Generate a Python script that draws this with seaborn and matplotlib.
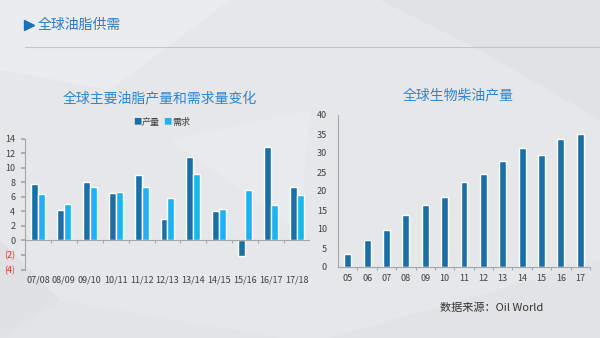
import matplotlib
matplotlib.use("Agg")
import matplotlib.pyplot as plt
from matplotlib.patches import Polygon
import seaborn as sns
import pandas as pd

sns.set_theme(style="white")
plt.rcParams['font.family'] = ['Noto Sans CJK SC', 'DejaVu Sans']

# ---- data ----
seasons = ["07/08", "08/09", "09/10", "10/11", "11/12", "12/13", "13/14", "14/15", "15/16", "16/17", "17/18"]
production = [7.7, 4.2, 8.0, 6.5, 9.0, 2.9, 11.5, 4.0, -2.1, 12.9, 7.3]
demand = [6.4, 5.0, 7.3, 6.7, 7.4, 5.9, 9.2, 4.3, 6.9, 4.9, 6.3]
series_names = ["产量", "需求"]

years = ["05", "06", "07", "08", "09", "10", "11", "12", "13", "14", "15", "16", "17"]
biodiesel = [3.5, 7.1, 9.7, 13.7, 16.3, 18.5, 22.5, 24.5, 27.8, 31.3, 29.5, 33.8, 35.1]

left_yticks = [-4, -2, 0, 2, 4, 6, 8, 10, 12, 14]
left_yticklabels = ["(4)", "(2)", "0", "2", "4", "6", "8", "10", "12", "14"]
right_yticks = [0, 5, 10, 15, 20, 25, 30, 35, 40]

DARK = "#1B6FA6"
LIGHT = "#1DB3F0"
TITLE = "#2F86CF"
TXT = "#404040"
AX = "#A6A6A6"

fig = plt.figure(figsize=(6, 3.38), dpi=100)
fig.patch.set_facecolor("#E6E7E9")

# background polygons (decorative, subtle)
bg = fig.add_axes([0, 0, 1, 1], zorder=-10)
bg.set_xlim(0, 600); bg.set_ylim(338, 0); bg.axis("off")
for pts, c in [
    ([(0, 0), (230, 0), (110, 90), (0, 70)], "#EBECED"),
    ([(380, 0), (600, 0), (600, 120), (480, 50)], "#E1E2E5"),
    ([(0, 240), (60, 300), (0, 338)], "#E0E1E3"),
    ([(60, 300), (280, 338), (0, 338)], "#E3E4E6"),
    ([(330, 338), (600, 260), (600, 338)], "#E2E3E5"),
    ([(170, 140), (310, 110), (300, 230)], "#E9EAEC"),
]:
    bg.add_patch(Polygon(pts, closed=True, facecolor=c, edgecolor="none"))

# header
bg.plot([29], [25], marker=">", color="#1A6FB8", markersize=7)
bg.text(38, 25, "全球油脂供需", color="#2A7CC6", fontsize=10, va="center", ha="left")
bg.plot([25, 600], [47, 47], color="#C4C4C4", lw=0.8)

# ---- left chart ----
df = pd.DataFrame({
    "season": seasons * 2,
    "value": production + demand,
    "series": [series_names[0]] * len(seasons) + [series_names[1]] * len(seasons),
})
ax1 = fig.add_axes([25 / 600, 1 - 269.5 / 338, 285 / 600, 130.8 / 338])
ax1.set_facecolor("none")
sns.barplot(data=df, x="season", y="value", hue="series", order=seasons,
            hue_order=series_names, palette=[DARK, LIGHT], width=0.54,
            saturation=1, ax=ax1, legend=False)
ax1.set_ylim(-4, 14)
ax1.set_xlim(-0.5, len(seasons) - 0.5)
ax1.set_yticks(left_yticks)
ax1.set_yticklabels(left_yticklabels, fontsize=6.5)
for lab, v in zip(ax1.get_yticklabels(), left_yticks):
    lab.set_color("#E03030" if v < 0 else TXT)
ax1.set_xticks(range(len(seasons)))
ax1.set_xticklabels(seasons, fontsize=6.5, color=TXT)
ax1.tick_params(axis="x", length=0, pad=4)
ax1.tick_params(axis="y", length=3, color=AX, left=True, pad=4)
ax1.set_xlabel(""); ax1.set_ylabel("")
for s in ["top", "right", "bottom"]:
    ax1.spines[s].set_visible(False)
ax1.spines["left"].set_color(AX)
ax1.spines["left"].set_linewidth(0.8)
ax1.axhline(0, color=AX, lw=0.8)
ax1.vlines([i + 0.5 for i in range(len(seasons))], -0.35, 0, color=AX, lw=0.8)

fig.text(160 / 600, 1 - 98 / 338, "全球主要油脂产量和需求量变化", color=TITLE,
         fontsize=10, ha="center", va="center")
# legend
lg_y = 1 - 122 / 338
fig.text(137 / 600, lg_y, "■", color=DARK, fontsize=6, ha="center", va="center")
fig.text(142 / 600, lg_y, series_names[0], color=TXT, fontsize=6.5, ha="left", va="center")
fig.text(167 / 600, lg_y, "■", color=LIGHT, fontsize=6, ha="center", va="center")
fig.text(172 / 600, lg_y, series_names[1], color=TXT, fontsize=6.5, ha="left", va="center")

# ---- right chart ----
df2 = pd.DataFrame({"year": years, "value": biodiesel})
ax2 = fig.add_axes([338 / 600, 1 - 267 / 338, 252 / 600, 152 / 338])
ax2.set_facecolor("none")
sns.barplot(data=df2, x="year", y="value", color=DARK, saturation=1, width=0.36, ax=ax2)
ax2.set_ylim(0, 40)
ax2.set_xlim(-0.5, len(years) - 0.5)
ax2.set_yticks(right_yticks)
ax2.set_yticklabels([str(v) for v in right_yticks], fontsize=6.5, color=TXT)
ax2.set_xticks(range(len(years)))
ax2.set_xticklabels(years, fontsize=6.5, color=TXT)
ax2.tick_params(axis="x", length=0, pad=5)
ax2.tick_params(axis="y", length=0, pad=8)
ax2.set_xlabel(""); ax2.set_ylabel("")
for s in ["top", "right"]:
    ax2.spines[s].set_visible(False)
for s in ["left", "bottom"]:
    ax2.spines[s].set_color(AX)
    ax2.spines[s].set_linewidth(0.8)
ax2.vlines([i + 0.5 for i in range(len(years))], -0.8, 0, color=AX, lw=0.8, clip_on=False)

fig.text(458 / 600, 1 - 95 / 338, "全球生物柴油产量", color=TITLE,
         fontsize=10, ha="center", va="center")
fig.text(440 / 600, 1 - 308 / 338, "数据来源：Oil World", color="#333333",
         fontsize=8, ha="left", va="center")

fig.savefig("out.png", dpi=100, facecolor=fig.get_facecolor())
